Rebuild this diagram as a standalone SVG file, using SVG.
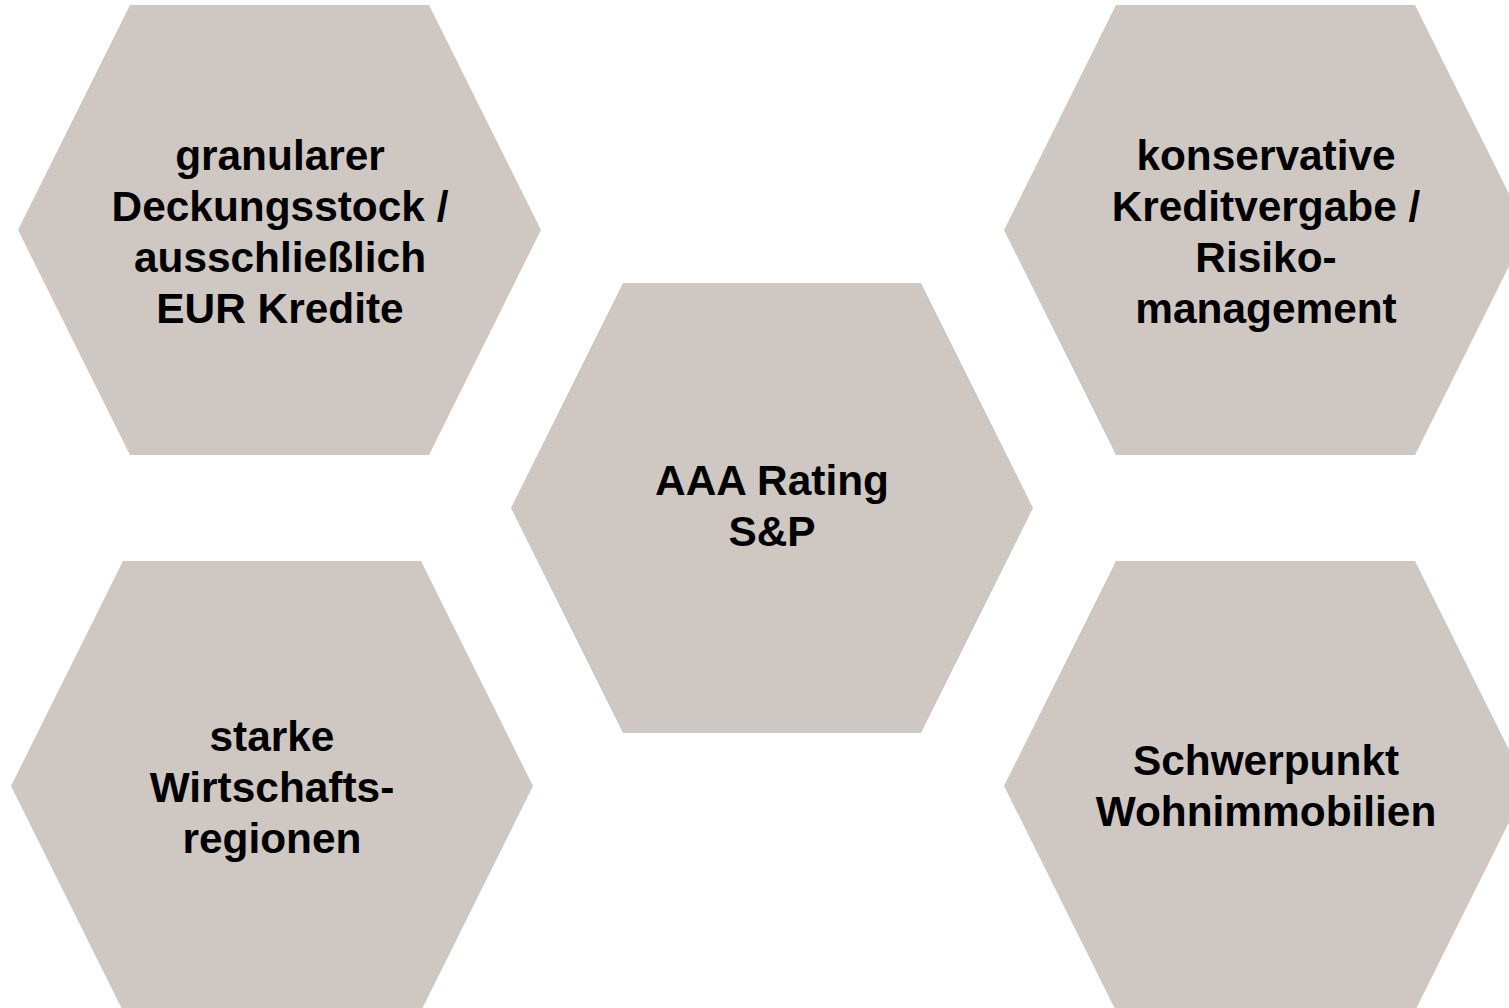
<svg xmlns="http://www.w3.org/2000/svg" width="1509" height="1008" viewBox="0 0 1509 1008">
<style>
.hex{fill:#CFC7C1;}
.t{font-family:"Liberation Sans",Arial,sans-serif;font-weight:bold;font-size:42.4px;fill:#000;text-anchor:middle;}
</style>
<rect width="1509" height="1008" fill="#FFFFFF"/>
<g id="node-granular">
<polygon class="hex" points="130,5 429,5 541,230 429,455 130,455 18,230"/>
<text class="t" x="280" y="170">granularer</text>
<text class="t" x="280" y="221">Deckungsstock /</text>
<text class="t" x="280" y="272">ausschließlich</text>
<text class="t" x="280" y="323">EUR Kredite</text>
</g>
<g id="node-konservativ">
<polygon class="hex" points="1116,5 1415,5 1527,230 1415,455 1116,455 1004,230"/>
<text class="t" x="1266" y="170">konservative</text>
<text class="t" x="1266" y="221">Kreditvergabe /</text>
<text class="t" x="1266" y="272">Risiko-</text>
<text class="t" x="1266" y="323">management</text>
</g>
<g id="node-rating">
<polygon class="hex" points="623,283 921,283 1033,508 921,733 623,733 511,508"/>
<text class="t" x="772" y="495">AAA Rating</text>
<text class="t" x="772" y="546">S&amp;P</text>
</g>
<g id="node-regionen">
<polygon class="hex" points="123,561 421,561 533,786 421,1011 123,1011 11,786"/>
<text class="t" x="272" y="751">starke</text>
<text class="t" x="272" y="802">Wirtschafts-</text>
<text class="t" x="272" y="853">regionen</text>
</g>
<g id="node-wohn">
<polygon class="hex" points="1116,561 1415,561 1527,786 1415,1011 1116,1011 1004,786"/>
<text class="t" x="1266" y="775">Schwerpunkt</text>
<text class="t" x="1266" y="826">Wohnimmobilien</text>
</g>
<g id="connectors"></g>
</svg>
